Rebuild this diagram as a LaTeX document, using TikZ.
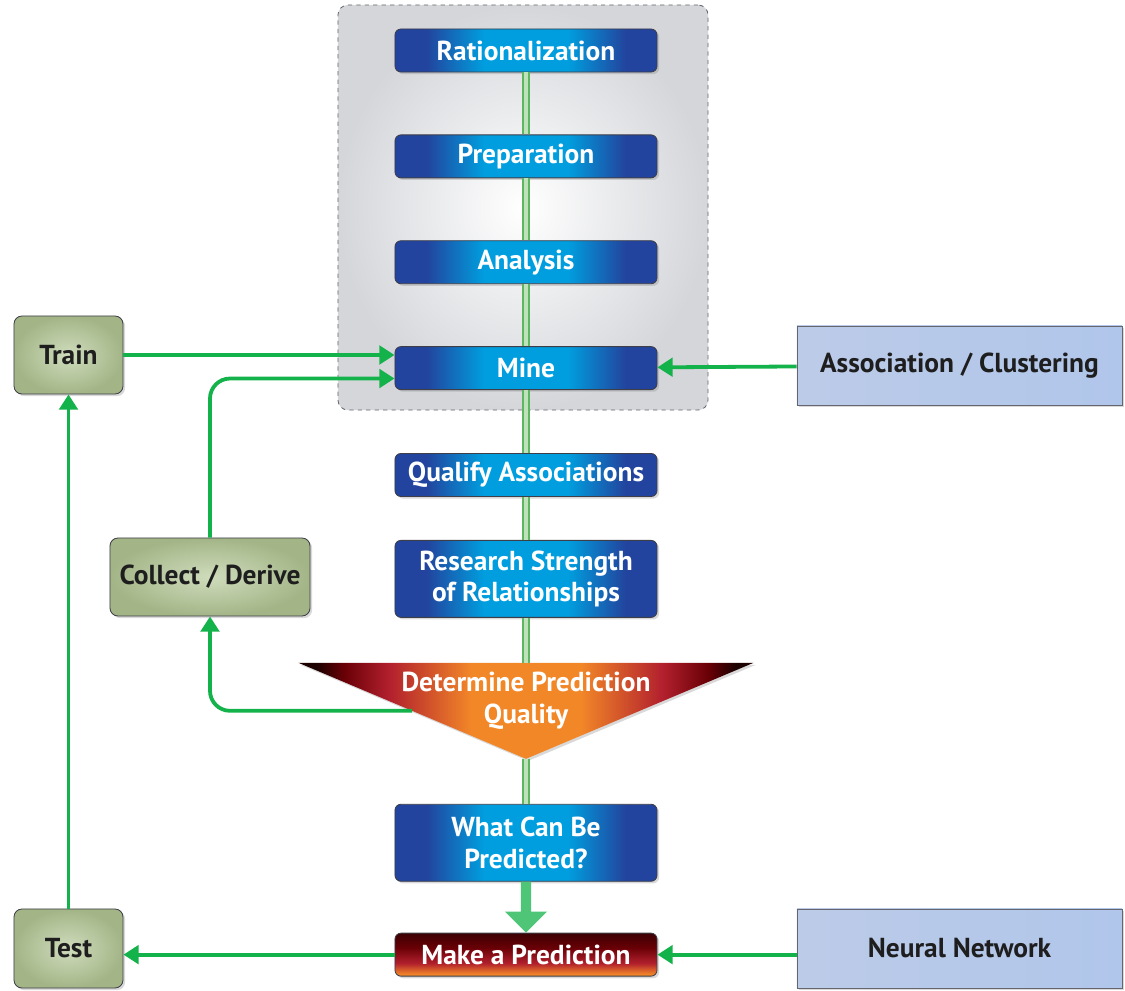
\documentclass[tikz,border=0pt]{standalone}
\usepackage{fontspec}
\setmainfont{PT Sans}
\usepackage{xcolor}
\usetikzlibrary{positioning,calc,shadows,arrows.meta,backgrounds}

\definecolor{flowgreen}{RGB}{20,178,74}
\definecolor{spineedge}{RGB}{95,182,98}
\definecolor{spinefill}{RGB}{192,226,186}
\definecolor{bdark}{RGB}{34,68,158}
\definecolor{bcyan}{RGB}{0,158,222}
\definecolor{sageout}{RGB}{163,181,135}
\definecolor{sagein}{RGB}{207,220,188}
\definecolor{steelleft}{RGB}{188,203,232}
\definecolor{steelmid}{RGB}{224,230,244}
\definecolor{steelright}{RGB}{176,198,234}
\definecolor{bggray}{RGB}{212,214,218}
\definecolor{edgegray}{RGB}{62,62,72}
\definecolor{inkdark}{RGB}{30,30,30}
\definecolor{tdark}{RGB}{28,0,0}
\definecolor{tmaroon}{RGB}{105,0,6}
\definecolor{tred}{RGB}{178,32,45}
\definecolor{torange}{RGB}{242,135,40}

\pgfdeclarehorizontalshading{bluebar}{100bp}{color(0bp)=(bdark); color(31bp)=(bdark); color(42bp)=(bcyan); color(58bp)=(bcyan); color(69bp)=(bdark); color(100bp)=(bdark)}
\pgfdeclarehorizontalshading{ember}{100bp}{color(0bp)=(tdark); color(27bp)=(tdark); color(30bp)=(tmaroon); color(35bp)=(tred); color(44bp)=(torange); color(56bp)=(torange); color(65bp)=(tred); color(70bp)=(tmaroon); color(73bp)=(tdark); color(100bp)=(tdark)}
\pgfdeclareverticalshading{emberbar}{100bp}{color(0bp)=(torange); color(27bp)=(torange); color(40bp)=(tred); color(58bp)=(tmaroon); color(75bp)=(tdark!60!tmaroon); color(100bp)=(tdark!60!tmaroon)}

\newcommand\whitefont{\fontsize{19.5}{22.5}\selectfont\bfseries}
\newcommand\darkfont{\fontsize{19.5}{22.5}\selectfont\bfseries}

\begin{document}
\begin{tikzpicture}[
        x=0.025cm, y=-0.025cm,
        stepbox/.style={rectangle, rounded corners=0.15cm, draw=edgegray, line width=0.6pt, shading=bluebar, shade, text=white, font=\whitefont, minimum width=6.55cm, minimum height=1.075cm, align=center, drop shadow={opacity=0.3, shadow xshift=1.5pt, shadow yshift=-1.5pt}},
        sagebox/.style={rectangle, rounded corners=0.2cm, draw=edgegray, line width=0.6pt, inner color=sagein, outer color=sageout, text=inkdark, font=\darkfont, minimum height=1.95cm, align=center, drop shadow={opacity=0.3, shadow xshift=1.5pt, shadow yshift=-1.5pt}},
        steelbox/.style={rectangle, draw=edgegray!80, line width=0.6pt, left color=steelleft, middle color=steelmid, right color=steelright, text=inkdark, font=\darkfont, minimum width=8.125cm, minimum height=1.975cm, align=center, drop shadow={opacity=0.3, shadow xshift=1.5pt, shadow yshift=-1.5pt}},
        spine/.style={draw=spineedge, double=spinefill, double distance=3.4pt, line width=1.4pt},
        flow/.style={draw=flowgreen, line width=2.7pt, -{Triangle[length=0.38cm, width=0.46cm]}, rounded corners=0.5cm}
    ]
        \useasboundingbox (0,0) rectangle (1125,991);

        % Stage backdrop
        \node[rectangle, rounded corners=0.25cm, draw=edgegray!80, dashed, line width=0.6pt, inner color=white, outer color=bggray, minimum width=9.25cm, minimum height=10.125cm] (stage) at (523,207.5) {};

        % Main column
        \node[stepbox] (rational) at (526,50.5) {Rationalization};
        \node[stepbox, below=1.55cm of rational] (prep) {Preparation};
        \node[stepbox, below=1.55cm of prep] (analysis) {Analysis};
        \node[stepbox, below=1.55cm of analysis] (mine) {Mine};
        \node[stepbox, below=1.575cm of mine] (qualify) {Qualify Associations};
        \node[stepbox, below=1.075cm of qualify, minimum height=1.925cm] (research) {Research Strength\\of Relationships};

        % Quality funnel
        \node[rectangle, inner sep=0pt, outer sep=0pt, minimum width=11.375cm, minimum height=2.4cm, below=1.125cm of research] (quality) {};
        \shade[shading=ember, drop shadow={opacity=0.3, shadow xshift=1.5pt, shadow yshift=-1.5pt}] (quality.north west) -- (quality.north east) -- (quality.south) -- cycle;
        \node[text=white, font=\whitefont, align=center, yshift=0.25cm] (qualitytext) at (quality.center) {Determine Prediction\\Quality};

        \node[stepbox, below=1.125cm of quality, minimum height=1.925cm] (predict) {What Can Be\\Predicted?};
        \node[stepbox, shading=emberbar, below=1.275cm of predict] (make) {Make a Prediction};

        % Side boxes
        \node[sagebox, minimum width=2.725cm] (train) at (68.5,355) {Train};
        \node[sagebox, minimum width=5cm] (collect) at (210,577) {Collect / Derive};
        \node[sagebox, minimum width=2.725cm, minimum height=1.975cm] (test) at (68.5,948.5) {Test};
        \node[steelbox] (assoc) at (959.5,365.5) {Association / Clustering};
        \node[steelbox] (neural) at (959.5,948.5) {Neural Network};

        % Spine
        \foreach \a/\b in {rational/prep, prep/analysis, analysis/mine, mine/qualify, qualify/research, research/quality}
            \draw[spine] (\a) -- (\b);
        \draw[spine] (quality.south) -- (predict);

        % Big arrow into the prediction
        \shade[left color=flowgreen!75, middle color=spinefill!70!white, right color=flowgreen!75]
            ([xshift=-0.13cm]predict.south) -- ([xshift=-0.13cm, yshift=0.53cm]make.north)
            -- ([xshift=-0.53cm, yshift=0.53cm]make.north) -- (make.north)
            -- ([xshift=0.53cm, yshift=0.53cm]make.north) -- ([xshift=0.13cm, yshift=0.53cm]make.north)
            -- ([xshift=0.13cm]predict.south) -- cycle;

        % Arrows
        \draw[flow] (train) -- (train -| mine.west);
        \draw[flow] (collect.north) |- ([yshift=-0.26cm]mine.west);
        \draw[flow] ($(quality.north west)!0.5!(quality.south)$) -| (collect.south);
        \draw[flow] (test) -- (train);
        \draw[flow] (make.west) -- (make.west -| test.east);
        \draw[flow] (neural.west |- make.east) -- (make.east);
        \draw[flow] (assoc) -- (mine);
    \end{tikzpicture}
\end{document}
